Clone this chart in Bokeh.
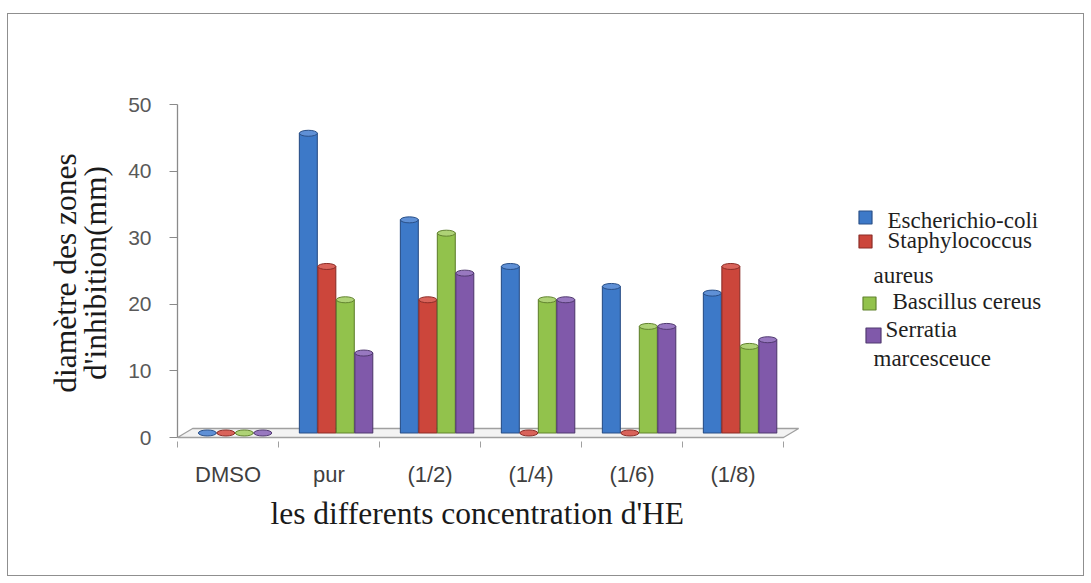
import numpy as np
from bokeh.plotting import figure
from bokeh.models import Range1d, FixedTicker, Title
from bokeh.core.properties import value
from bokeh.embed import file_html
from bokeh.resources import INLINE

# ---------------- data ----------------
categories = ["DMSO", "pur", "(1/2)", "(1/4)", "(1/6)", "(1/8)"]
series_names = ["Escherichio-coli", "Staphylococcus aureus", "Bascillus cereus", "Serratia marcesceuce"]
escherichia = [0, 45, 32, 25, 22, 21]
staphylococcus = [0, 25, 20, 0, 0, 25]
bacillus = [0, 20, 30, 20, 16, 13]
serratia = [0, 12, 24, 20, 16, 14]
y_ticks = [0, 10, 20, 30, 40, 50]
legend_lines = [["Escherichio-coli"], ["Staphylococcus", "aureus"], ["Bascillus  cereus"], ["Serratia", "marcesceuce"]]
x_title = "les differents concentration d'HE"
y_title = "diamètre des zones\nd'inhibition(mm)"

# ---------------- style ----------------
fills = ["#3d79c8", "#cc463b", "#92c24c", "#8059aa"]
edges = ["#2a5088", "#8c2d27", "#62832f", "#513a70"]
caps = ["#5f90d6", "#d9635a", "#aed276", "#9878c0"]

W, H = 1077, 563
X_PX0, PX_PER_X = 177, 101.0      # page x of x=-0.5, pixels per category
Y_PX0, PX_PER_Y = 437, 6.66       # page y of y=0, pixels per unit

def xd(px):
    return -0.5 + (px - X_PX0) / PX_PER_X

def yd(py):
    return (Y_PX0 - py) / PX_PER_Y

x_end = xd(1075)
p = figure(width=W, height=H, output_backend="svg", toolbar_location=None,
           x_range=Range1d(-0.5, x_end), y_range=Range1d(-0.6, 50),
           min_border_left=169, min_border_right=10, min_border_top=90, min_border_bottom=136,
           margin=(13, 0, 0, 7), styles={"border": "1px solid #8f8f8f"})
p.background_fill_color = "white"
p.border_fill_color = "white"
p.outline_line_color = None
p.xgrid.grid_line_color = None
p.ygrid.grid_line_color = None

# 3D floor
FLOOR_DX, FLOOR_DY = 0.15, 1.35
n = len(categories)
p.patch([-0.5, n - 0.5, n - 0.5 + FLOOR_DX, -0.5 + FLOOR_DX],
        [0, 0, FLOOR_DY, FLOOR_DY], fill_color="#f3f3f3", line_color="#a0a0a0", line_width=1.3)

# bars
DEPTH_DX, DEPTH_DY = 0.07, 0.68
BAR_W = 0.183
offsets = [-1.5 * BAR_W, -0.5 * BAR_W, 0.5 * BAR_W, 1.5 * BAR_W]
series = [escherichia, staphylococcus, bacillus, serratia]
xs_base = np.arange(n)
for k, vals in enumerate(series):
    xs = xs_base + DEPTH_DX + offsets[k]
    tops = np.array(vals, dtype=float) + DEPTH_DY
    p.vbar(x=xs, width=BAR_W * 0.97, bottom=DEPTH_DY, top=tops,
           fill_color=fills[k], line_color=edges[k], line_width=1.1)
    p.ellipse(x=xs, y=tops, width=BAR_W * 0.97, height=6, height_units="screen",
              fill_color=caps[k], line_color=edges[k], line_width=1.0)

# axes
yax = p.yaxis[0]
yax.ticker = FixedTicker(ticks=y_ticks)
yax.bounds = (0, 50)
yax.axis_line_color = "#8a8a8a"
yax.axis_line_width = 1.3
yax.major_tick_line_color = "#8a8a8a"
yax.major_tick_out = 8
yax.major_tick_in = 0
yax.minor_tick_line_color = None
yax.major_label_standoff = 18
yax.major_label_text_font = "Liberation Sans"
yax.major_label_text_font_size = "21px"
yax.major_label_text_color = "#595959"
yax.axis_label = y_title
yax.axis_label_text_font = "Liberation Serif"
yax.axis_label_text_font_size = "31.5px"
yax.axis_label_text_line_height = 0.85
yax.axis_label_text_font_style = "normal"
yax.axis_label_text_color = "#1a1a1a"
yax.axis_label_standoff = 12

xax = p.xaxis[0]
xax.ticker = FixedTicker(ticks=list(range(n)), minor_ticks=[i - 0.5 for i in range(n + 1)])
xax.major_label_overrides = {i: c for i, c in enumerate(categories)}
xax.bounds = (-0.5, n - 0.5)
xax.axis_line_color = None
xax.major_tick_line_color = None
xax.minor_tick_line_color = "#a0a0a0"
xax.minor_tick_out = 6
xax.minor_tick_in = 0
xax.major_label_standoff = 14
xax.major_label_text_font = "Liberation Sans"
xax.major_label_text_font_size = "22px"
xax.major_label_text_color = "#3f3f3f"

# x title, placed under the category part of the axis (as in the original)
p.add_layout(Title(text=x_title, align="left", offset=93, standoff=8,
                   text_font="Liberation Serif", text_font_size="31.5px",
                   text_font_style="normal", text_color="#1a1a1a"), "below")

# legend (drawn manually so that labels can wrap like the original)
marker_pos = [(865, 217, 13), (865, 241, 13), (869, 303, 13), (873, 335, 15)]
text_pos = [[(887, 220)], [(887, 240), (873, 275)], [(892, 301)], [(885, 329), (873, 358)]]
for k in range(len(series_names)):
    mx, my, ms = marker_pos[k]
    p.scatter([xd(mx)], [yd(my)], marker="square", size=ms,
              fill_color=fills[k], line_color=edges[k], line_width=1.2)
    for (tx, ty), line in zip(text_pos[k], legend_lines[k]):
        p.text([xd(tx)], [yd(ty)], text=[line], text_font=value("Liberation Serif"),
               text_font_size="23px", text_color="#1f1f1f",
               text_baseline="middle", text_align="left")

open("out.html", "w").write(file_html(p, INLINE))
